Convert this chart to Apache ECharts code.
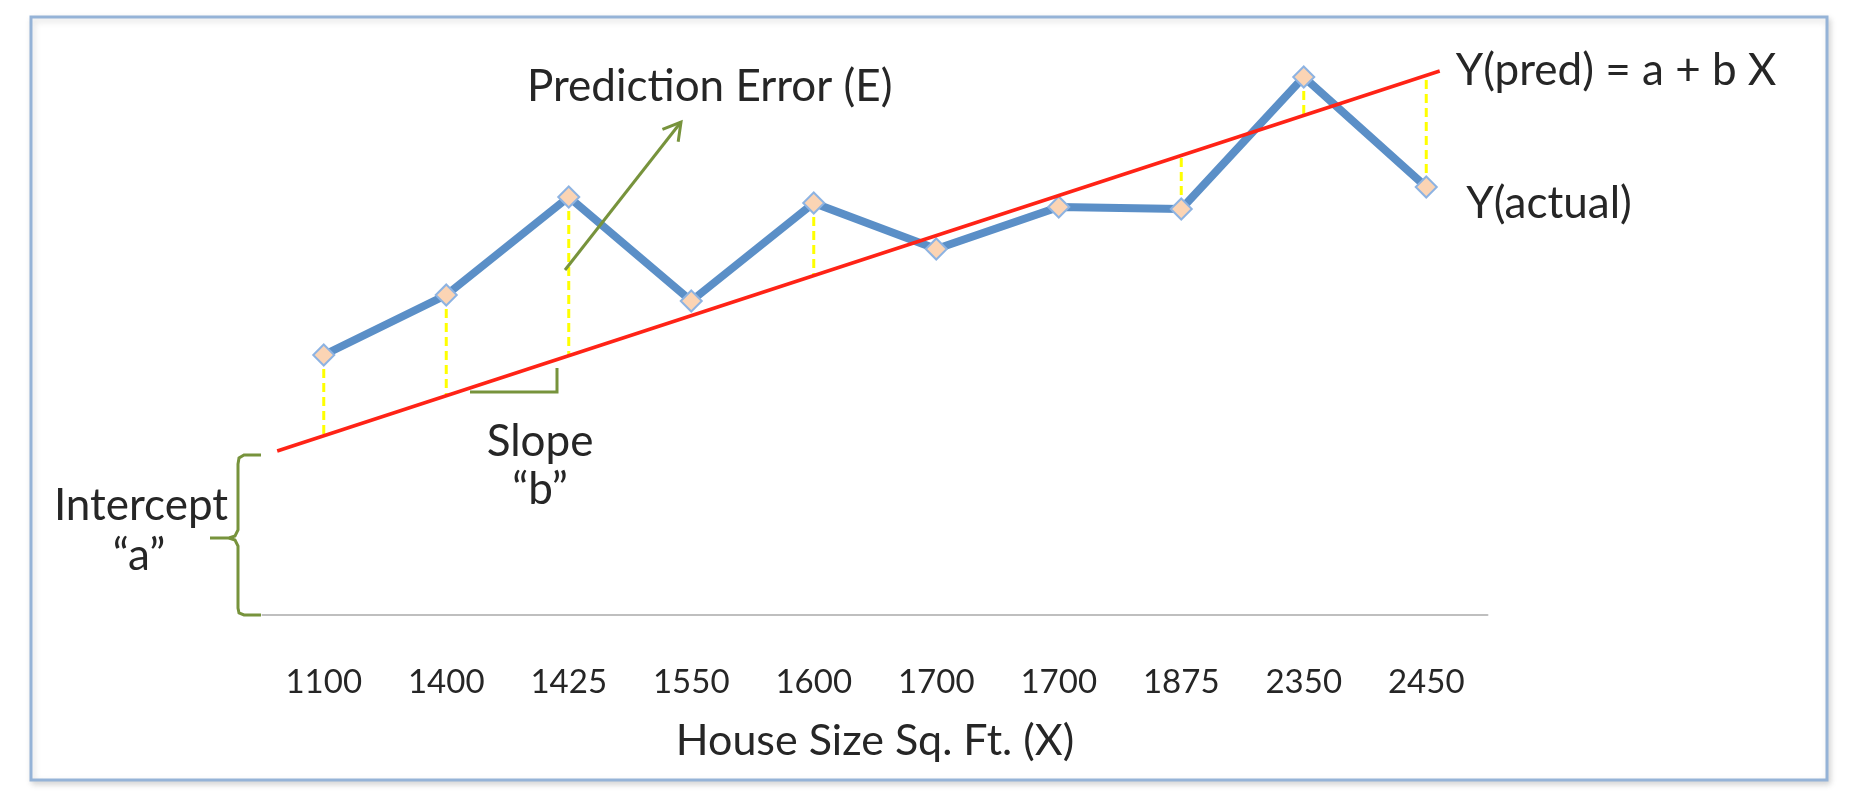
<!DOCTYPE html>
<html>
<head>
<meta charset="utf-8">
<script src="https://cdn.jsdelivr.net/npm/echarts@6/dist/echarts.min.js"></script>
<style>
html,body{margin:0;padding:0;background:#fff;}
#chart{width:1854px;height:802px;}
</style>
</head>
<body>
<div id="chart"></div>
<script>
// ---- data ----
const categories = ['1100','1400','1425','1550','1600','1700','1700','1875','2350','2450'];
const actualY = [130, 160, 209, 157, 206, 183, 204, 203, 269, 214];
const predictedY = [90, 110, 130, 150, 170, 190, 210, 230, 250, 270];
const errorShownIdx = [0, 1, 2, 4, 7, 8, 9];
// trend line ends, x in category-band units (0..10), y in value units
const trendX = [0.12, 9.61];
const trendY = [82, 272];
const xTitle = 'House Size Sq. Ft. (X)';

const FONT = 'Lato';
const TXT = '#262626';
const GREEN = '#77933c';
const ANN = 44;

const chart = echarts.init(document.getElementById('chart'), null, {renderer: 'canvas'});

const errorData = errorShownIdx.map(i => [i, actualY[i], predictedY[i]]);

const option = {
  animation: false,
  backgroundColor: '#ffffff',
  grid: {left: 262.5, right: 366.5, top: 15, bottom: 187, containLabel: false},
  xAxis: [
    {
      type: 'category', data: categories, boundaryGap: true,
      axisLine: {show: true, lineStyle: {color: '#bfbfbf', width: 2}},
      axisTick: {show: false},
      axisLabel: {fontFamily: FONT, fontSize: 33, color: TXT, margin: 51},
      name: xTitle, nameLocation: 'middle', nameGap: 105,
      nameTextStyle: {fontFamily: FONT, fontSize: 43, color: TXT}
    },
    {
      type: 'value', min: 0, max: 10, show: false
    }
  ],
  yAxis: [{type: 'value', min: 0, max: 300, show: false}],
  series: [
    {
      type: 'custom', name: 'error', xAxisIndex: 0, yAxisIndex: 0,
      data: errorData, z: 3,
      renderItem: function (params, api) {
        const p1 = api.coord([api.value(0), api.value(1)]);
        const p2 = api.coord([api.value(0), api.value(2)]);
        return {
          type: 'line',
          shape: {x1: p1[0], y1: p1[1], x2: p2[0], y2: p2[1]},
          style: {stroke: '#ffff00', lineWidth: 3, lineDash: [9, 5]}
        };
      }
    },
    {
      type: 'line', name: 'Y(actual)', data: actualY, xAxisIndex: 0, z: 4,
      lineStyle: {color: '#5b8fc7', width: 8},
      symbol: 'diamond', symbolSize: 21,
      itemStyle: {color: '#fbd4b4', borderColor: '#8db3e2', borderWidth: 2},
      endLabel: {show: true, formatter: 'Y(actual)', fontFamily: FONT, fontSize: ANN,
                 color: TXT, distance: 40, offset: [0, 17]}
    },
    {
      type: 'line', name: 'Y(pred)', xAxisIndex: 1, z: 5,
      data: [[trendX[0], trendY[0]], [trendX[1], trendY[1]]],
      symbol: 'none',
      lineStyle: {color: '#ff2316', width: 3.5},
      endLabel: {show: true, formatter: 'Y(pred) = a + b X', fontFamily: FONT, fontSize: ANN,
                 color: TXT, distance: 16}
    }
  ]
};

chart.setOption(option);

// annotations
function arrowHead(x1, y1, x2, y2, len, ang) {
  const dx = x1 - x2, dy = y1 - y2, L = Math.hypot(dx, dy);
  const ux = dx / L, uy = dy / L;
  const r = a => [x2 + len * (ux * Math.cos(a) - uy * Math.sin(a)), y2 + len * (ux * Math.sin(a) + uy * Math.cos(a))];
  return [r(ang), [x2, y2], r(-ang)];
}
const arr = arrowHead(565, 270, 681, 122, 20, Math.PI / 6);
const txt = (t, x, y, align) => ({type: 'text', z: 100, silent: true,
  style: {text: t, x: x, y: y, textAlign: align, textVerticalAlign: 'middle',
          font: ANN + 'px ' + FONT, fill: TXT}});

chart.setOption({
  graphic: [
    {type: 'rect', z: -10, silent: true,
     shape: {x: 31, y: 17, width: 1796, height: 763},
     style: {fill: '#fff', stroke: '#95b3d7', lineWidth: 3,
             shadowBlur: 6, shadowOffsetX: 2, shadowOffsetY: 3, shadowColor: 'rgba(0,0,0,0.15)'}},
    {type: 'line', z: 100, shape: {x1: 565, y1: 270, x2: 681, y2: 122},
     style: {stroke: GREEN, lineWidth: 3}},
    {type: 'polyline', z: 100, shape: {points: arr},
     style: {stroke: GREEN, lineWidth: 3, fill: null}},
    {type: 'polyline', z: 100, shape: {points: [[470, 392], [557, 392], [557, 368]]},
     style: {stroke: GREEN, lineWidth: 3, fill: null}},
    {type: 'polyline', z: 100,
     shape: {points: [[261, 455], [244, 455], [239, 458], [238, 464], [238, 530], [235, 536], [229, 538], [210, 538]]},
     style: {stroke: GREEN, lineWidth: 3, fill: null}},
    {type: 'polyline', z: 100,
     shape: {points: [[229, 538], [235, 540], [238, 546], [238, 608], [239, 613], [244, 615], [261, 615]]},
     style: {stroke: GREEN, lineWidth: 3, fill: null}},
    txt('Prediction Error (E)', 527, 87, 'left'),
    txt('Slope', 540, 442, 'center'),
    txt('\u201Cb\u201D', 540, 490, 'center'),
    txt('Intercept', 141, 506, 'center'),
    txt('\u201Ca\u201D', 139, 556, 'center')
  ]
});
</script>
</body>
</html>
